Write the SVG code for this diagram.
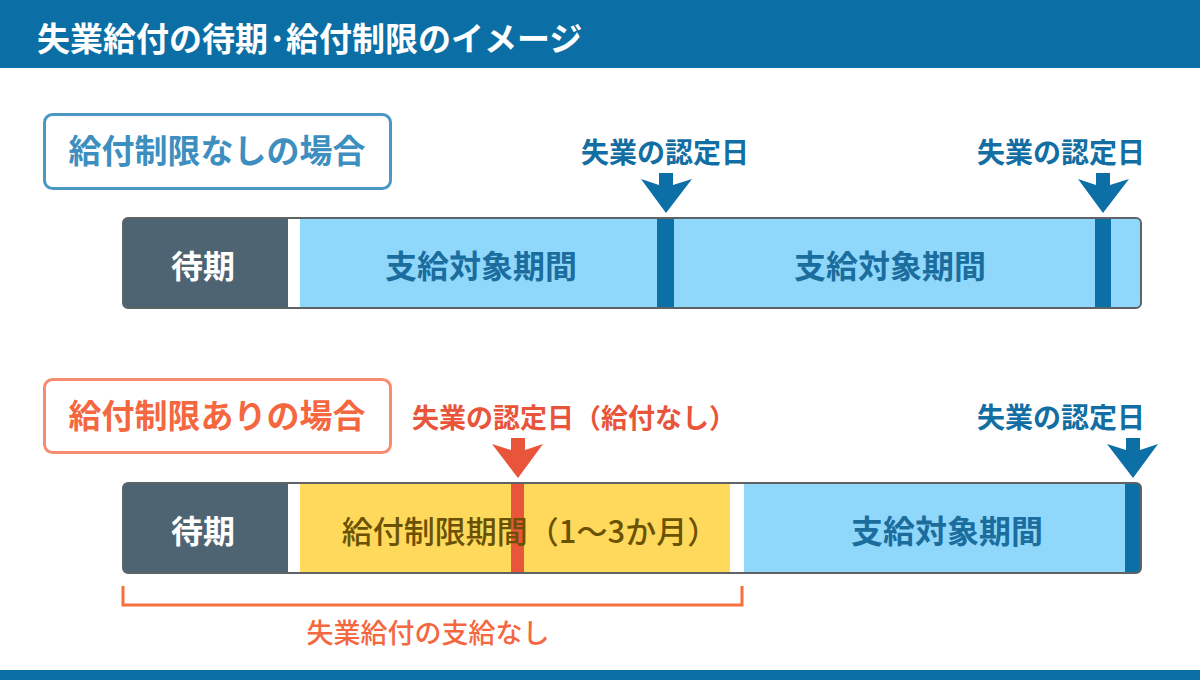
<svg xmlns="http://www.w3.org/2000/svg" width="1200" height="680" viewBox="0 0 1200 680">
<style>
text{font-family:"Noto Sans CJK JP","Noto Sans",sans-serif;font-weight:bold}
.title{fill:#fff;font-size:33px}
.caseA{fill:#3d8fbf;font-size:33px}
.caseB{fill:#f4673f;font-size:33px}
.lbl{fill:#126ea3;font-size:28px}
.lblR{fill:#e8553a;font-size:27px}
.wait{fill:#fff;font-size:32px;text-anchor:middle}
.pay{fill:#1b6d9e;font-size:32px;text-anchor:middle}
.lim{fill:#6b5202;font-size:31px;text-anchor:middle;font-weight:500}
.none{fill:#f4673f;font-size:27px;text-anchor:middle;font-weight:500}
.barOutline{fill:none;stroke:#5e6366;stroke-width:2}
.arrowB{fill:#0c6fa6}
.arrowR{fill:#e8553a}
</style>
<defs>
<clipPath id="clip1"><rect x="123" y="218" width="1018" height="90" rx="5"/></clipPath>
<clipPath id="clip2"><rect x="123" y="483" width="1018" height="90" rx="5"/></clipPath>
</defs>
<rect width="1200" height="680" fill="#fff"/>
<g id="header">
<rect x="0" y="0" width="1200" height="68" fill="#0b6fa6"/>
<text class="title" x="37" y="51">失業給付の待期</text>
<text class="title" x="269" y="51">･</text>
<text class="title" x="286" y="51">給付制限のイメージ</text>
</g>
<rect id="footer" x="0" y="670" width="1200" height="10" fill="#0b6fa6"/>

<g id="case-none">
<rect x="44.5" y="114.5" width="346" height="74" rx="8" fill="#fff" stroke="#4b98c5" stroke-width="3"/>
<text class="caseA" x="217" y="163" text-anchor="middle">給付制限なしの場合</text>
</g>

<g id="bar1">
<g clip-path="url(#clip1)">
<rect x="123" y="218" width="165" height="90" fill="#4e6472"/>
<rect x="288" y="218" width="12" height="90" fill="#fff"/>
<rect x="300" y="218" width="841" height="90" fill="#8fd8fc"/>
<rect x="657" y="218" width="17" height="90" fill="#0c6fa6"/>
<rect x="1095" y="218" width="16" height="90" fill="#0c6fa6"/>
</g>
<rect class="barOutline" x="123" y="218" width="1018" height="90" rx="5"/>
<text class="wait" x="203" y="278">待期</text>
<text class="pay" x="481" y="278">支給対象期間</text>
<text class="pay" x="890" y="278">支給対象期間</text>
</g>

<g id="cert1">
<text class="lbl" x="665" y="163" text-anchor="middle">失業の認定日</text>
</g>
<g id="cert2">
<text class="lbl" x="1061" y="163" text-anchor="middle">失業の認定日</text>
</g>

<g id="case-limit">
<rect x="44.5" y="379.5" width="346" height="73" rx="8" fill="#fff" stroke="#f78c72" stroke-width="3"/>
<text class="caseB" x="217" y="428" text-anchor="middle">給付制限ありの場合</text>
</g>

<g id="bar2">
<g clip-path="url(#clip2)">
<rect x="123" y="483" width="165" height="90" fill="#4e6472"/>
<rect x="288" y="483" width="12" height="90" fill="#fff"/>
<rect x="300" y="483" width="430" height="90" fill="#fed95c"/>
<rect x="730" y="483" width="14" height="90" fill="#fff"/>
<rect x="744" y="483" width="397" height="90" fill="#8fd8fc"/>
<rect x="1125" y="483" width="16" height="90" fill="#0c6fa6"/>
<rect x="511" y="483" width="13" height="90" fill="#e8553a"/>
</g>
<rect class="barOutline" x="123" y="483" width="1018" height="90" rx="5"/>
<text class="wait" x="203" y="543">待期</text>
<text class="lim" x="530" y="543">給付制限期間（1〜3か月）</text>
<text class="pay" x="947" y="543">支給対象期間</text>
</g>

<g id="cert3">
<text class="lblR" x="574" y="428" text-anchor="middle">失業の認定日（給付なし）</text>
</g>
<g id="cert4">
<text class="lbl" x="1061" y="428" text-anchor="middle">失業の認定日</text>
</g>

<g id="none-label">
<text class="none" x="428" y="643">失業給付の支給なし</text>
</g>

<g id="connectors">
<polygon class="arrowB" points="659,173 673,173 673,185 692,179 666,213 641,179 659,185"/>
<polygon class="arrowB" points="1096,173 1110,173 1110,185 1129,179 1103,213 1078,179 1096,185"/>
<polygon class="arrowR" points="511,438 525,438 525,450 543,444 518,478 492,444 511,450"/>
<polygon class="arrowB" points="1126,438 1140,438 1140,450 1158,444 1133,478 1107,444 1126,450"/>
<polyline points="123,586 123,605 742,605 742,586" fill="none" stroke="#f5703d" stroke-width="3"/>
</g>
</svg>
